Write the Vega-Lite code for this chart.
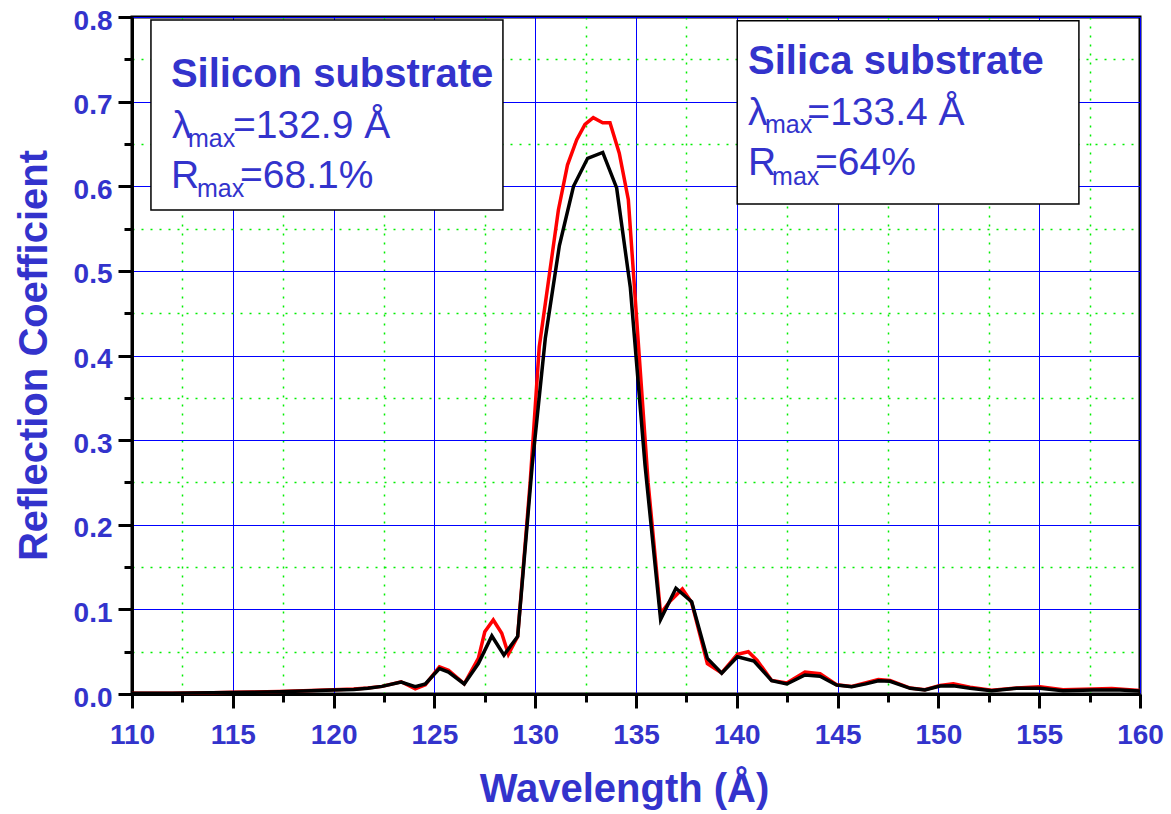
{
  "$schema": "https://vega.github.io/schema/vega-lite/v6.json",
  "width": 1008,
  "height": 677,
  "autosize": {"type": "none"},
  "padding": {"left": 132, "top": 17, "right": 31, "bottom": 120},
  "background": "white",
  "config": {
    "font": "Liberation Sans",
    "view": {"stroke": "black", "strokeWidth": 3}
  },
  "datasets": {
    "curves": [
      {"series": "Silicon", "wl": 110.0, "R": 0.001},
      {"series": "Silicon", "wl": 112.0, "R": 0.001},
      {"series": "Silicon", "wl": 114.0, "R": 0.0015},
      {"series": "Silicon", "wl": 115.0, "R": 0.002},
      {"series": "Silicon", "wl": 116.0, "R": 0.0023},
      {"series": "Silicon", "wl": 117.3, "R": 0.003},
      {"series": "Silicon", "wl": 118.5, "R": 0.0037},
      {"series": "Silicon", "wl": 120.0, "R": 0.005},
      {"series": "Silicon", "wl": 121.0, "R": 0.0058},
      {"series": "Silicon", "wl": 121.7, "R": 0.007},
      {"series": "Silicon", "wl": 122.4, "R": 0.009},
      {"series": "Silicon", "wl": 123.35, "R": 0.0145},
      {"series": "Silicon", "wl": 124.05, "R": 0.006},
      {"series": "Silicon", "wl": 124.55, "R": 0.011},
      {"series": "Silicon", "wl": 125.25, "R": 0.032},
      {"series": "Silicon", "wl": 125.7, "R": 0.028},
      {"series": "Silicon", "wl": 126.48, "R": 0.012},
      {"series": "Silicon", "wl": 127.18, "R": 0.042},
      {"series": "Silicon", "wl": 127.5, "R": 0.0736},
      {"series": "Silicon", "wl": 127.92, "R": 0.0875},
      {"series": "Silicon", "wl": 128.34, "R": 0.0717},
      {"series": "Silicon", "wl": 128.67, "R": 0.047},
      {"series": "Silicon", "wl": 129.13, "R": 0.068},
      {"series": "Silicon", "wl": 129.75, "R": 0.25},
      {"series": "Silicon", "wl": 130.2, "R": 0.41},
      {"series": "Silicon", "wl": 130.7, "R": 0.495},
      {"series": "Silicon", "wl": 131.15, "R": 0.572},
      {"series": "Silicon", "wl": 131.6, "R": 0.625},
      {"series": "Silicon", "wl": 132.06, "R": 0.655},
      {"series": "Silicon", "wl": 132.47, "R": 0.673},
      {"series": "Silicon", "wl": 132.88, "R": 0.681},
      {"series": "Silicon", "wl": 133.35, "R": 0.675},
      {"series": "Silicon", "wl": 133.71, "R": 0.675},
      {"series": "Silicon", "wl": 134.17, "R": 0.639},
      {"series": "Silicon", "wl": 134.62, "R": 0.584},
      {"series": "Silicon", "wl": 135.1, "R": 0.42},
      {"series": "Silicon", "wl": 135.6, "R": 0.25},
      {"series": "Silicon", "wl": 136.22, "R": 0.095},
      {"series": "Silicon", "wl": 136.7, "R": 0.11},
      {"series": "Silicon", "wl": 137.3, "R": 0.124},
      {"series": "Silicon", "wl": 137.76, "R": 0.108},
      {"series": "Silicon", "wl": 138.54, "R": 0.036},
      {"series": "Silicon", "wl": 139.25, "R": 0.025},
      {"series": "Silicon", "wl": 140.03, "R": 0.047},
      {"series": "Silicon", "wl": 140.57, "R": 0.05},
      {"series": "Silicon", "wl": 141.0, "R": 0.04},
      {"series": "Silicon", "wl": 141.73, "R": 0.016},
      {"series": "Silicon", "wl": 142.48, "R": 0.013},
      {"series": "Silicon", "wl": 143.38, "R": 0.026},
      {"series": "Silicon", "wl": 144.13, "R": 0.024},
      {"series": "Silicon", "wl": 144.95, "R": 0.011},
      {"series": "Silicon", "wl": 145.7, "R": 0.009},
      {"series": "Silicon", "wl": 147.02, "R": 0.017},
      {"series": "Silicon", "wl": 147.6, "R": 0.016},
      {"series": "Silicon", "wl": 148.6, "R": 0.007},
      {"series": "Silicon", "wl": 149.33, "R": 0.005},
      {"series": "Silicon", "wl": 150.08, "R": 0.01},
      {"series": "Silicon", "wl": 150.74, "R": 0.012},
      {"series": "Silicon", "wl": 151.57, "R": 0.008},
      {"series": "Silicon", "wl": 152.64, "R": 0.0045},
      {"series": "Silicon", "wl": 153.88, "R": 0.007},
      {"series": "Silicon", "wl": 155.04, "R": 0.0085},
      {"series": "Silicon", "wl": 156.18, "R": 0.005},
      {"series": "Silicon", "wl": 157.67, "R": 0.006},
      {"series": "Silicon", "wl": 158.6, "R": 0.0065},
      {"series": "Silicon", "wl": 160.0, "R": 0.004},
      {"series": "Silica", "wl": 110.0, "R": 0.001},
      {"series": "Silica", "wl": 112.0, "R": 0.001},
      {"series": "Silica", "wl": 114.0, "R": 0.0014},
      {"series": "Silica", "wl": 115.0, "R": 0.0018},
      {"series": "Silica", "wl": 116.0, "R": 0.0021},
      {"series": "Silica", "wl": 117.3, "R": 0.0028},
      {"series": "Silica", "wl": 118.5, "R": 0.0034},
      {"series": "Silica", "wl": 120.0, "R": 0.0047},
      {"series": "Silica", "wl": 121.0, "R": 0.0054},
      {"series": "Silica", "wl": 121.7, "R": 0.0068},
      {"series": "Silica", "wl": 122.4, "R": 0.009},
      {"series": "Silica", "wl": 123.35, "R": 0.0142},
      {"series": "Silica", "wl": 124.05, "R": 0.0087},
      {"series": "Silica", "wl": 124.55, "R": 0.0118},
      {"series": "Silica", "wl": 125.25, "R": 0.03},
      {"series": "Silica", "wl": 125.7, "R": 0.026},
      {"series": "Silica", "wl": 126.48, "R": 0.0118},
      {"series": "Silica", "wl": 127.18, "R": 0.036},
      {"series": "Silica", "wl": 127.85, "R": 0.0686},
      {"series": "Silica", "wl": 128.45, "R": 0.046},
      {"series": "Silica", "wl": 129.13, "R": 0.068},
      {"series": "Silica", "wl": 129.85, "R": 0.27},
      {"series": "Silica", "wl": 130.5, "R": 0.42},
      {"series": "Silica", "wl": 131.2, "R": 0.53},
      {"series": "Silica", "wl": 131.9, "R": 0.6},
      {"series": "Silica", "wl": 132.6, "R": 0.633},
      {"series": "Silica", "wl": 133.35, "R": 0.64},
      {"series": "Silica", "wl": 134.04, "R": 0.598},
      {"series": "Silica", "wl": 134.72, "R": 0.48},
      {"series": "Silica", "wl": 135.45, "R": 0.27},
      {"series": "Silica", "wl": 136.22, "R": 0.088},
      {"series": "Silica", "wl": 136.98, "R": 0.125},
      {"series": "Silica", "wl": 137.76, "R": 0.109},
      {"series": "Silica", "wl": 138.54, "R": 0.042},
      {"series": "Silica", "wl": 139.25, "R": 0.0245},
      {"series": "Silica", "wl": 140.03, "R": 0.044},
      {"series": "Silica", "wl": 140.85, "R": 0.039},
      {"series": "Silica", "wl": 141.73, "R": 0.0157},
      {"series": "Silica", "wl": 142.48, "R": 0.0118},
      {"series": "Silica", "wl": 143.38, "R": 0.0225},
      {"series": "Silica", "wl": 144.13, "R": 0.021},
      {"series": "Silica", "wl": 144.95, "R": 0.0106},
      {"series": "Silica", "wl": 145.7, "R": 0.0087},
      {"series": "Silica", "wl": 146.4, "R": 0.012},
      {"series": "Silica", "wl": 147.02, "R": 0.0157},
      {"series": "Silica", "wl": 147.6, "R": 0.015},
      {"series": "Silica", "wl": 148.6, "R": 0.0067},
      {"series": "Silica", "wl": 149.33, "R": 0.0047},
      {"series": "Silica", "wl": 150.08, "R": 0.0095},
      {"series": "Silica", "wl": 150.74, "R": 0.0098},
      {"series": "Silica", "wl": 151.57, "R": 0.0067},
      {"series": "Silica", "wl": 152.64, "R": 0.0039},
      {"series": "Silica", "wl": 153.88, "R": 0.0067},
      {"series": "Silica", "wl": 155.04, "R": 0.0067},
      {"series": "Silica", "wl": 156.18, "R": 0.0039},
      {"series": "Silica", "wl": 157.67, "R": 0.0047},
      {"series": "Silica", "wl": 159.0, "R": 0.0047},
      {"series": "Silica", "wl": 160.0, "R": 0.0035}
    ],
    "boxes": [
      {"box": "Silicon", "x1": 110.94, "x2": 128.4, "y1": 0.7965, "y2": 0.5719},
      {"box": "Silica", "x1": 140.02, "x2": 156.97, "y1": 0.7957, "y2": 0.579}
    ],
    "heads": [
      {"text": "Silicon substrate", "x": 111.93, "y": 0.7173},
      {"text": "Silica substrate", "x": 140.556, "y": 0.7326}
    ],
    "body": [
      {"text": "λ", "x": 111.98, "y": 0.657},
      {"text": "=132.9 Å", "x": 115.01, "y": 0.657},
      {"text": "R", "x": 111.93, "y": 0.598},
      {"text": "=68.1%", "x": 115.36, "y": 0.598},
      {"text": "λ", "x": 140.556, "y": 0.6724},
      {"text": "=133.4 Å", "x": 143.5, "y": 0.6724},
      {"text": "R", "x": 140.556, "y": 0.6133},
      {"text": "=64%", "x": 143.88, "y": 0.6133}
    ],
    "subs": [
      {"text": "max", "x": 112.78, "y": 0.6464},
      {"text": "max", "x": 113.22, "y": 0.5873},
      {"text": "max", "x": 141.4, "y": 0.6629},
      {"text": "max", "x": 141.75, "y": 0.6015}
    ]
  },
  "resolve": {"axis": {"x": "independent", "y": "independent"}},
  "layer": [
    {
      "data": {"name": "boxes"},
      "mark": {"type": "rect", "fill": "#8a8a8a", "xOffset": 3, "yOffset": 3},
      "encoding": {
        "x": {
          "field": "x1", "type": "quantitative",
          "scale": {"domain": [110, 160], "nice": false, "zero": false},
          "axis": {
            "orient": "bottom",
            "values": [112.5, 117.5, 122.5, 127.5, 132.5, 137.5, 142.5, 147.5, 152.5, 157.5],
            "labels": false, "title": null, "domain": false,
            "tickSize": 8, "tickWidth": 3, "tickColor": "black",
            "grid": true, "gridColor": "#00ee00", "gridDash": [2, 7], "gridWidth": 1.5
          }
        },
        "x2": {"field": "x2"},
        "y": {
          "field": "y1", "type": "quantitative",
          "scale": {"domain": [0, 0.8], "nice": false, "zero": false},
          "axis": {
            "orient": "left",
            "values": [0.05, 0.15, 0.25, 0.35, 0.45, 0.55, 0.65, 0.75],
            "labels": false, "title": null, "domain": false,
            "tickSize": 8, "tickWidth": 3, "tickColor": "black",
            "grid": true, "gridColor": "#00ee00", "gridDash": [2, 7], "gridWidth": 1.5
          }
        },
        "y2": {"field": "y2"}
      }
    },
    {
      "data": {"name": "curves"},
      "transform": [{"filter": "datum.series === 'Silicon'"}],
      "mark": {"type": "line", "color": "#ff0000", "strokeWidth": 3.5},
      "encoding": {
        "x": {
          "field": "wl", "type": "quantitative",
          "scale": {"domain": [110, 160], "nice": false, "zero": false},
          "axis": {
            "orient": "bottom",
            "values": [110, 115, 120, 125, 130, 135, 140, 145, 150, 155, 160],
            "format": "d",
            "tickSize": 14, "tickWidth": 3, "tickColor": "black",
            "domain": true, "domainColor": "black", "domainWidth": 3,
            "grid": true, "gridColor": "#0000ff", "gridWidth": 1,
            "labelFont": "Liberation Sans", "labelFontWeight": "bold", "labelFontSize": 28,
            "labelColor": "#3333cc", "labelBaseline": "alphabetic", "labelPadding": 35,
            "labelFlush": false, "labelOverlap": false,
            "title": "Wavelength (Å)",
            "titleFont": "Liberation Sans", "titleFontWeight": "bold", "titleFontSize": 40,
            "titleColor": "#3333cc", "titleBaseline": "alphabetic", "titleAlign": "center",
            "titleX": 492, "titleY": 107
          }
        },
        "y": {
          "field": "R", "type": "quantitative",
          "scale": {"domain": [0, 0.8], "nice": false, "zero": false},
          "axis": {
            "orient": "left",
            "values": [0, 0.1, 0.2, 0.3, 0.4, 0.5, 0.6, 0.7, 0.8],
            "format": ".1f",
            "tickSize": 14, "tickWidth": 3, "tickColor": "black",
            "domain": true, "domainColor": "black", "domainWidth": 3,
            "grid": true, "gridColor": "#0000ff", "gridWidth": 1,
            "labelFont": "Liberation Sans", "labelFontWeight": "bold", "labelFontSize": 28,
            "labelColor": "#3333cc", "labelPadding": 6, "labelOffset": 4,
            "labelFlush": false, "labelOverlap": false,
            "title": "Reflection Coefficient",
            "titleFont": "Liberation Sans", "titleFontWeight": "bold", "titleFontSize": 40,
            "titleColor": "#3333cc", "titleBaseline": "alphabetic", "titleAlign": "center",
            "titleAngle": -90, "titleX": -86, "titleY": 338
          }
        }
      }
    },
    {
      "data": {"name": "curves"},
      "transform": [{"filter": "datum.series === 'Silica'"}],
      "mark": {"type": "line", "color": "#000000", "strokeWidth": 3.5},
      "encoding": {
        "x": {"field": "wl", "type": "quantitative", "scale": {"domain": [110, 160], "nice": false, "zero": false}, "axis": null},
        "y": {"field": "R", "type": "quantitative", "scale": {"domain": [0, 0.8], "nice": false, "zero": false}, "axis": null}
      }
    },
    {
      "data": {"name": "boxes"},
      "mark": {"type": "rect", "fill": "white", "stroke": "black", "strokeWidth": 1.5},
      "encoding": {
        "x": {"field": "x1", "type": "quantitative", "scale": {"domain": [110, 160], "nice": false, "zero": false}, "axis": null},
        "x2": {"field": "x2"},
        "y": {"field": "y1", "type": "quantitative", "scale": {"domain": [0, 0.8], "nice": false, "zero": false}, "axis": null},
        "y2": {"field": "y2"}
      }
    },
    {
      "data": {"name": "heads"},
      "mark": {"type": "text", "font": "Liberation Sans", "fontWeight": "bold", "fontSize": 40, "color": "#3333cc", "align": "left", "baseline": "alphabetic"},
      "encoding": {
        "x": {"field": "x", "type": "quantitative", "scale": {"domain": [110, 160], "nice": false, "zero": false}, "axis": null},
        "y": {"field": "y", "type": "quantitative", "scale": {"domain": [0, 0.8], "nice": false, "zero": false}, "axis": null},
        "text": {"field": "text"}
      }
    },
    {
      "data": {"name": "body"},
      "mark": {"type": "text", "font": "Liberation Sans", "fontSize": 39, "color": "#3333cc", "align": "left", "baseline": "alphabetic"},
      "encoding": {
        "x": {"field": "x", "type": "quantitative", "scale": {"domain": [110, 160], "nice": false, "zero": false}, "axis": null},
        "y": {"field": "y", "type": "quantitative", "scale": {"domain": [0, 0.8], "nice": false, "zero": false}, "axis": null},
        "text": {"field": "text"}
      }
    },
    {
      "data": {"name": "subs"},
      "mark": {"type": "text", "font": "Liberation Sans", "fontSize": 25, "color": "#3333cc", "align": "left", "baseline": "alphabetic"},
      "encoding": {
        "x": {"field": "x", "type": "quantitative", "scale": {"domain": [110, 160], "nice": false, "zero": false}, "axis": null},
        "y": {"field": "y", "type": "quantitative", "scale": {"domain": [0, 0.8], "nice": false, "zero": false}, "axis": null},
        "text": {"field": "text"}
      }
    }
  ]
}
